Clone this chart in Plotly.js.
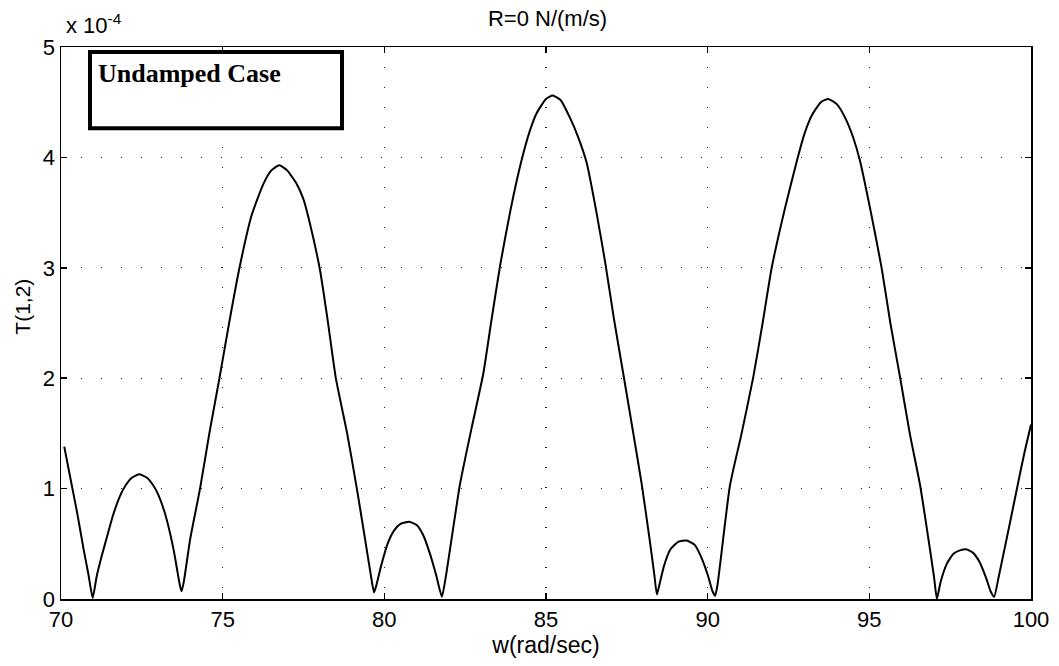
<!DOCTYPE html>
<html>
<head>
<meta charset="utf-8">
<script src="https://cdn.plot.ly/plotly-3.0.1.min.js"></script>
<style>html,body{margin:0;padding:0;background:#fff;}#chart{width:1059px;height:666px;}</style>
</head>
<body>
<div id="chart"></div>
<script>
// frequency w (rad/sec)
const w = [
  70.1, 70.3, 70.5, 70.7, 70.85, 70.98,
  71.1, 71.25, 71.41, 71.6, 71.82, 72.0, 72.2, 72.42, 72.65, 72.85, 73.0, 73.2, 73.37, 73.5, 73.6, 73.68, 73.73,
  73.8, 74.0, 74.3, 74.6, 74.9, 75.2, 75.52, 75.9, 76.26, 76.5, 76.75, 77.0, 77.29, 77.5, 77.7, 78.01, 78.25, 78.5, 78.85, 79.15, 79.4, 79.58, 79.68,
  79.75, 79.9, 80.1, 80.3, 80.5, 80.77, 81.0, 81.2, 81.4, 81.6, 81.78,
  81.9, 82.34, 82.7, 83.06, 83.3, 83.58, 83.9, 84.25, 84.5, 84.71, 85.0, 85.21, 85.45, 85.74, 86.0, 86.26, 86.55, 86.83, 87.1, 87.39, 87.7, 87.96, 88.2, 88.35, 88.43,
  88.5, 88.65, 88.85, 89.1, 89.35, 89.6, 89.8, 90.0, 90.15, 90.23,
  90.3, 90.69, 91.05, 91.41, 91.7, 91.98, 92.4, 92.76, 93.0, 93.22, 93.5, 93.73, 94.0, 94.25, 94.5, 94.71, 95.05, 95.38, 95.65, 95.95, 96.25, 96.57, 96.85, 97.0, 97.09,
  97.2, 97.4, 97.6, 97.8, 97.99, 98.2, 98.4, 98.6, 98.75, 98.86,
  99.0, 99.3, 99.6, 99.8, 100.0
];
// T(1,2) in units of 1e-4
const T12 = [
  1.38, 1.08, 0.78, 0.45, 0.22, 0.01,
  0.20, 0.38, 0.55, 0.75, 0.93, 1.03, 1.10, 1.13, 1.10, 1.03, 0.95, 0.79, 0.60, 0.42, 0.25, 0.12, 0.07,
  0.16, 0.55, 1.00, 1.52, 2.00, 2.50, 3.00, 3.48, 3.76, 3.88, 3.93, 3.88, 3.76, 3.62, 3.40, 2.98, 2.52, 2.00, 1.50, 1.00, 0.55, 0.22, 0.06,
  0.12, 0.30, 0.50, 0.62, 0.68, 0.70, 0.67, 0.58, 0.42, 0.22, 0.02,
  0.20, 1.04, 1.55, 2.04, 2.50, 3.02, 3.52, 3.98, 4.24, 4.40, 4.53, 4.56, 4.52, 4.36, 4.18, 3.95, 3.52, 3.05, 2.54, 2.04, 1.50, 1.04, 0.55, 0.22, 0.04,
  0.12, 0.30, 0.45, 0.52, 0.53, 0.49, 0.38, 0.22, 0.07, 0.03,
  0.12, 1.03, 1.50, 2.01, 2.50, 3.00, 3.55, 3.97, 4.22, 4.38, 4.50, 4.53, 4.48, 4.36, 4.18, 3.97, 3.50, 3.00, 2.50, 2.01, 1.50, 1.03, 0.50, 0.20, 0.00,
  0.15, 0.32, 0.41, 0.44, 0.45, 0.42, 0.34, 0.20, 0.07, 0.02,
  0.20, 0.62, 1.05, 1.33, 1.58
];
const xTicks = [70, 75, 80, 85, 90, 95, 100];
const yTicks = [0, 1, 2, 3, 4, 5];

const titleText = 'R=0 N/(m/s)';
const xTitle = 'w(rad/sec)';
const yTitle = 'T(1,2)';
const boxLabel = 'Undamped Case';
const exponentLabel = 'x 10<sup>-4</sup>';

const fontFam = 'Liberation Sans, Arial, sans-serif';

const trace = {
  x: w, y: T12, type: 'scatter', mode: 'lines',
  line: {color: '#000', width: 2, shape: 'spline', smoothing: 0.5},
  hoverinfo: 'skip', showlegend: false
};

const axisCommon = {
  showline: true, linecolor: '#000', linewidth: 1.5, mirror: 'ticks',
  ticks: 'inside', ticklen: 6, tickcolor: '#000', tickwidth: 1.5,
  showgrid: true, gridcolor: '#222', gridwidth: 1.3, griddash: '1px,19px',
  zeroline: false,
  tickfont: {family: fontFam, size: 22, color: '#000'}
};

const layout = {
  width: 1059, height: 666,
  margin: {l: 61, r: 28, t: 47, b: 67},
  paper_bgcolor: '#fff', plot_bgcolor: '#fff',
  title: {text: titleText, font: {family: fontFam, size: 22, color: '#000'}, x: 0.517, xanchor: 'center', y: 0.972, yanchor: 'middle'},
  xaxis: Object.assign({}, axisCommon, {
    range: [70, 100], tickvals: xTicks, ticktext: xTicks.map(String),
    title: {text: xTitle, font: {family: fontFam, size: 23, color: '#000'}, standoff: 6}
  }),
  yaxis: Object.assign({}, axisCommon, {
    range: [0, 5], tickvals: yTicks, ticktext: yTicks.map(String)
  }),
  shapes: [{
    type: 'rect', xref: 'paper', yref: 'paper',
    x0: 0.0299, x1: 0.2897, y0: 0.853, y1: 0.991,
    line: {color: '#000', width: 4}, fillcolor: '#fff', layer: 'above'
  }],
  annotations: [
    {text: boxLabel, xref: 'paper', yref: 'paper', x: 0.036, y: 0.982, xanchor: 'left', yanchor: 'top',
     showarrow: false, font: {family: 'Liberation Serif, Times New Roman, serif', size: 26, color: '#000', weight: 'bold'}},
    {text: exponentLabel, xref: 'paper', yref: 'paper', x: 0.003, y: 1.012, xanchor: 'left', yanchor: 'bottom',
     showarrow: false, font: {family: fontFam, size: 22, color: '#000'}},
    {text: yTitle, xref: 'paper', yref: 'paper', x: -0.04, y: 0.53, xanchor: 'center', yanchor: 'middle',
     textangle: -90, showarrow: false, font: {family: fontFam, size: 21, color: '#000'}}
  ]
};

Plotly.newPlot('chart', [trace], layout, {displayModeBar: false, staticPlot: true});
</script>
</body>
</html>
